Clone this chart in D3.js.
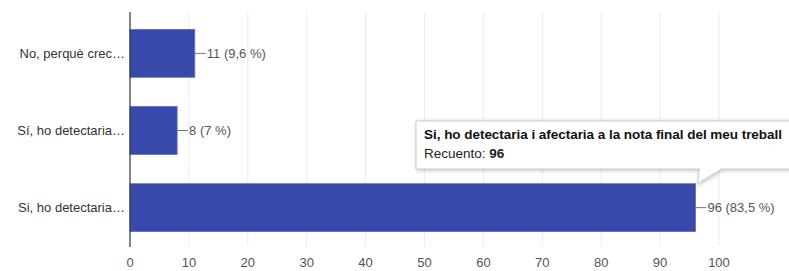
<!DOCTYPE html>
<html>
<head>
<meta charset="utf-8">
<script src="https://cdn.jsdelivr.net/npm/d3@7"></script>
<style>
  body { margin: 0; background: #fff; }
  text { font-family: Arial, "Liberation Sans", sans-serif; }
</style>
</head>
<body>
<div id="chart"></div>
<script>
// dades del gràfic
const categories = ["No, perquè crec…", "Sí, ho detectaria…", "Si, ho detectaria…"];
const counts = [11, 8, 96];
const percents = ["9,6 %", "7 %", "83,5 %"];
const xTicks = [0, 10, 20, 30, 40, 50, 60, 70, 80, 90, 100];
const tooltipTitle = "Si, ho detectaria i afectaria a la nota final del meu treball";
const tooltipLabel = "Recuento: ";
const tooltipValue = 96;

const width = 789, height = 271;
const margin = { top: 12, right: 70, bottom: 24, left: 130 };

const svg = d3.select("#chart").append("svg")
  .attr("width", width)
  .attr("height", height);

const x = d3.scaleLinear()
  .domain([0, 100])
  .range([margin.left, 719]);

const y = d3.scaleBand()
  .domain(categories)
  .range([margin.top + 2, 247])
  .paddingInner(0.38)
  .paddingOuter(0.2);

// línies de graella
svg.append("g")
  .selectAll("line")
  .data(xTicks.slice(1))
  .enter().append("line")
  .attr("x1", d => x(d)).attr("x2", d => x(d))
  .attr("y1", margin.top).attr("y2", 246)
  .attr("stroke", "#ececec")
  .attr("stroke-width", 1);

// etiquetes de l'eix x
svg.append("g")
  .selectAll("text")
  .data(xTicks)
  .enter().append("text")
  .attr("x", d => x(d))
  .attr("y", 267)
  .attr("text-anchor", "middle")
  .attr("font-size", 13)
  .attr("fill", "#555")
  .text(d => d);

// barres
svg.append("g")
  .selectAll("rect")
  .data(counts)
  .enter().append("rect")
  .attr("x", x(0))
  .attr("y", (d, i) => y(categories[i]))
  .attr("width", d => x(d) - x(0))
  .attr("height", y.bandwidth())
  .attr("fill", "#3949ab")
  .attr("stroke", "#5c6bc0")
  .attr("stroke-width", 0.8);

// eix vertical
svg.append("line")
  .attr("x1", x(0)).attr("x2", x(0))
  .attr("y1", margin.top).attr("y2", 247)
  .attr("stroke", "#333")
  .attr("stroke-width", 1.2);

// etiquetes de categoria
svg.append("g")
  .selectAll("text")
  .data(categories)
  .enter().append("text")
  .attr("x", 125)
  .attr("y", d => y(d) + y.bandwidth() / 2 + 4.5)
  .attr("text-anchor", "end")
  .attr("font-size", 13)
  .attr("fill", "#333")
  .text(d => d);

// anotacions de valor
const ann = svg.append("g");
counts.forEach((c, i) => {
  const cy = y(categories[i]) + y.bandwidth() / 2;
  ann.append("line")
    .attr("x1", x(c)).attr("x2", x(c) + 11)
    .attr("y1", cy).attr("y2", cy)
    .attr("stroke", "#777");
  ann.append("text")
    .attr("x", x(c) + 12)
    .attr("y", cy + 4.5)
    .attr("font-size", 13)
    .attr("fill", "#555")
    .text(`${c} (${percents[i]})`);
});

// tooltip
const tipBar = y(categories[2]);
const tx = 416, ty = 121, tw = 390, th = 48;
const tip = svg.append("g");
tip.append("path")
  .attr("d", `M${tx},${ty} H${tx + tw} V${ty + th} H${x(tooltipValue) + 26} L${x(tooltipValue) + 2},${tipBar} L${x(tooltipValue) + 4},${ty + th} H${tx} Z`)
  .attr("fill", "#fff")
  .attr("stroke", "#cfcfcf")
  .attr("stroke-width", 1)
  .style("filter", "drop-shadow(1px 1px 2px rgba(0,0,0,0.25))");
tip.append("text")
  .attr("x", tx + 8)
  .attr("y", ty + 18)
  .attr("font-size", 13.5)
  .attr("textLength", 358)
  .attr("lengthAdjust", "spacing")
  .attr("font-weight", "bold")
  .attr("fill", "#111")
  .text(tooltipTitle);
const t2 = tip.append("text")
  .attr("x", tx + 8)
  .attr("y", ty + 37)
  .attr("font-size", 13.5)
  .attr("fill", "#222");
t2.append("tspan").text(tooltipLabel);
t2.append("tspan").attr("font-weight", "bold").text(tooltipValue);
</script>
</body>
</html>
